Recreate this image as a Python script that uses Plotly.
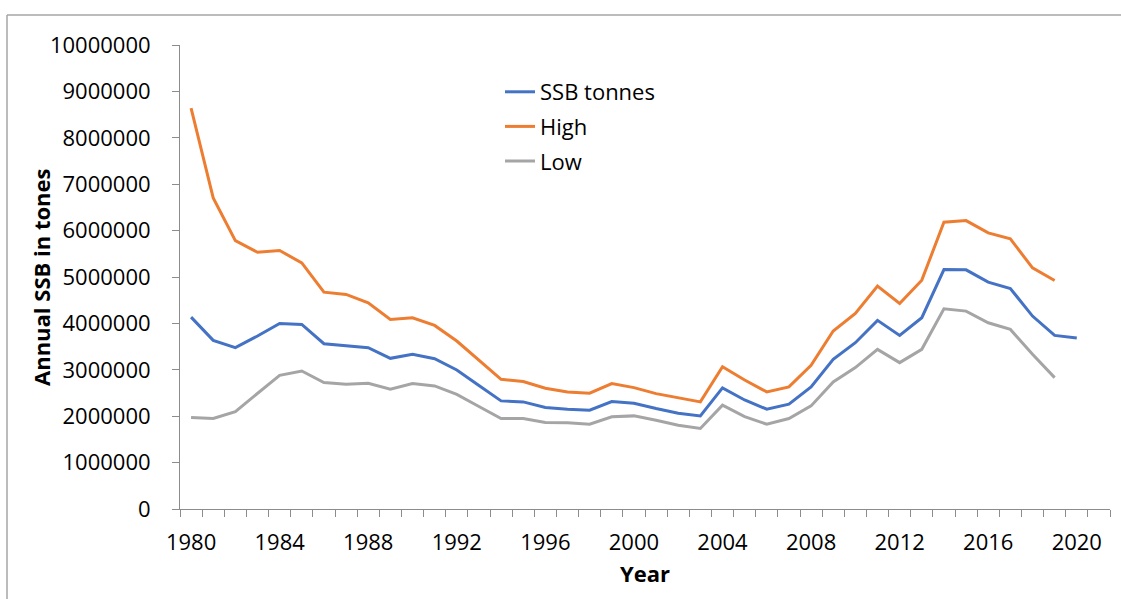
import plotly.graph_objects as go

years_ssb = list(range(1980, 2021))
years_hl = list(range(1980, 2020))

ssb_tonnes = [4135000, 3634000, 3477000, 3728000, 4000000, 3978000, 3563000, 3527000,
              3477000, 3247000, 3333000, 3240000, 2996000, 2660000, 2330000, 2308000,
              2186000, 2151000, 2129000, 2316000, 2280000, 2165000, 2065000, 2007000,
              2610000, 2350000, 2151000, 2258000, 2631000, 3226000, 3584000, 4065000,
              3742000, 4122000, 5161000, 5154000, 4889000, 4753000, 4158000, 3742000,
              3684000]

high = [8638000, 6703000, 5785000, 5534000, 5570000, 5305000, 4674000, 4624000,
        4444000, 4086000, 4122000, 3957000, 3620000, 3210000, 2796000, 2746000,
        2602000, 2523000, 2495000, 2703000, 2616000, 2487000, 2401000, 2308000,
        3065000, 2780000, 2523000, 2631000, 3097000, 3835000, 4215000, 4803000,
        4430000, 4932000, 6179000, 6215000, 5950000, 5821000, 5197000, 4925000]

low = [1971000, 1950000, 2100000, 2495000, 2882000, 2975000, 2724000, 2688000,
       2710000, 2581000, 2703000, 2652000, 2470000, 2210000, 1950000, 1950000,
       1864000, 1857000, 1828000, 1986000, 2007000, 1914000, 1806000, 1735000,
       2237000, 1990000, 1828000, 1950000, 2222000, 2738000, 3047000, 3441000,
       3154000, 3441000, 4316000, 4265000, 4014000, 3871000, 3333000, 2832000]

x_tick_labels = [str(y) for y in range(1980, 2021, 4)]

FONT = "Open Sans"
AXIS_COLOR = "#8c8c8c"
BORDER_COLOR = "#a6a6a6"

PL, PR, PT, PB = 180, 1110, 45, 509  # plot area in pixels
PW, PH = PR - PL, PB - PT


def px_x(x):
    return (x - PL) / PW


def px_y(y):
    return (PB - y) / PH


fig = go.Figure()
fig.add_trace(go.Scatter(x=years_ssb, y=ssb_tonnes, mode="lines", name="SSB tonnes",
                         line=dict(color="#4472C4", width=3), legendgroup="a"))
fig.add_trace(go.Scatter(x=years_hl, y=high, mode="lines", name="High",
                         line=dict(color="#ED7D31", width=3), legendgroup="b"))
fig.add_trace(go.Scatter(x=years_hl, y=low, mode="lines", name="Low",
                         line=dict(color="#A5A5A5", width=3), legendgroup="c"))

fig.update_layout(
    width=1121, height=599,
    margin=dict(l=PL, r=1121 - PR, t=PT, b=599 - PB),
    paper_bgcolor="white", plot_bgcolor="white",
    font=dict(family=FONT, size=22, color="#000000"),
    showlegend=True,
    legend=dict(x=px_x(500), y=px_y(71), xanchor="left", yanchor="top",
                bgcolor="rgba(0,0,0,0)", tracegroupgap=3,
                font=dict(family=FONT, size=22, color="#000000")),
    xaxis=dict(
        range=[1979.5, 2021.5],
        automargin=False,
        tickmode="array",
        tickvals=[int(t) for t in x_tick_labels],
        ticktext=x_tick_labels,
        ticks="",
        showline=True, linecolor=AXIS_COLOR, linewidth=1,
        showgrid=False, zeroline=False,
        ticklabelstandoff=14,
        tickfont=dict(family=FONT, size=22, color="#000000"),
        minor=dict(tickmode="linear", tick0=1979.5, dtick=1, ticks="outside",
                   ticklen=7, tickcolor=AXIS_COLOR, tickwidth=1, showgrid=False),
        title=dict(text="<b>Year</b>", standoff=11,
                   font=dict(family=FONT, size=22, color="#000000")),
    ),
    yaxis=dict(
        range=[0, 10000000],
        automargin=False,
        tickmode="linear", tick0=0, dtick=1000000,
        tickformat="d",
        ticks="outside", ticklen=7, tickcolor=AXIS_COLOR,
        showline=True, linecolor=AXIS_COLOR, linewidth=1,
        showgrid=False, zeroline=False,
        ticklabelstandoff=17,
        tickfont=dict(family=FONT, size=22, color="#000000"),
    ),
    annotations=[
        dict(text="<b>Annual SSB in tones</b>", xref="paper", yref="paper",
             x=px_x(41), y=0.5, xanchor="center", yanchor="middle",
             textangle=-90, showarrow=False,
             font=dict(family=FONT, size=22, color="#000000")),
    ],
    shapes=[
        dict(type="line", xref="paper", yref="paper",
             x0=px_x(7), x1=px_x(1121), y0=px_y(15), y1=px_y(15),
             line=dict(color=BORDER_COLOR, width=1.5), layer="below"),
        dict(type="line", xref="paper", yref="paper",
             x0=px_x(7), x1=px_x(7), y0=px_y(15), y1=px_y(599),
             line=dict(color=BORDER_COLOR, width=1.5), layer="below"),
    ],
)

fig.write_html("out.html",
               config={"displayModeBar": False},
               post_script="document.body.style.margin='0';document.body.style.overflow='hidden';")
